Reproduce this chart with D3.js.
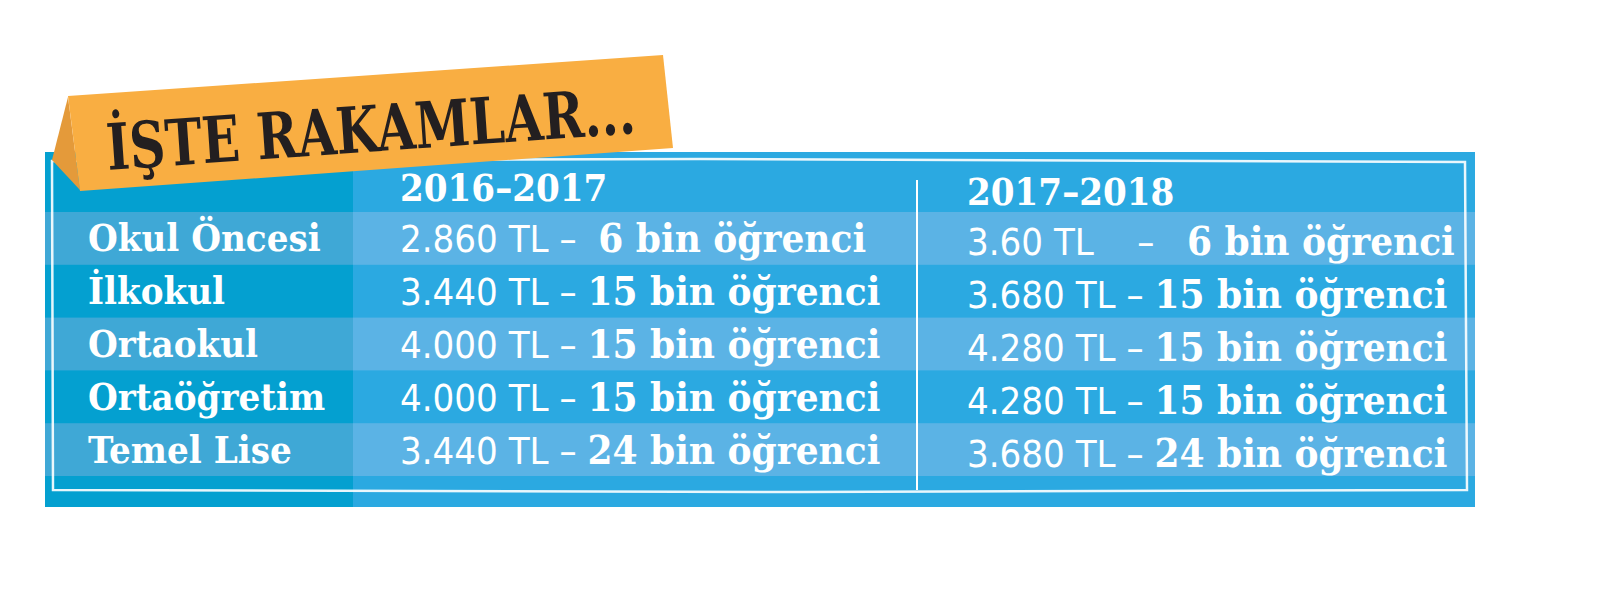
<!DOCTYPE html>
<html><head><meta charset="utf-8">
<script src="https://cdn.jsdelivr.net/npm/d3@7"></script>
<style>body{margin:0;background:#fff}</style></head>
<body><svg id="c" width="1600" height="590"></svg>
<script>
const title = "İŞTE RAKAMLAR...";
const periods = ["2016–2017", "2017–2018"];
const levels = ["Okul Öncesi", "İlkokul", "Ortaokul", "Ortaöğretim", "Temel Lise"];
const fees2016 = ["2.860 TL –  ", "3.440 TL – ", "4.000 TL – ", "4.000 TL – ", "3.440 TL – "];
const students2016 = ["6 bin öğrenci", "15 bin öğrenci", "15 bin öğrenci", "15 bin öğrenci", "24 bin öğrenci"];
const fees2017 = ["3.60 TL    –   ", "3.680 TL – ", "4.280 TL – ", "4.280 TL – ", "3.680 TL – "];
const students2017 = ["6 bin öğrenci", "15 bin öğrenci", "15 bin öğrenci", "15 bin öğrenci", "24 bin öğrenci"];

const svg = d3.select("#c");
const slab = "'DejaVu Serif Condensed','DejaVu Serif',serif";

// panel
svg.append("rect").attr("x", 45).attr("y", 152).attr("width", 1430).attr("height", 355).attr("fill", "#2ba9e1");
svg.append("rect").attr("x", 45).attr("y", 152).attr("width", 308).attr("height", 355).attr("fill", "#04a0d0");

const y = d3.scaleBand().domain(levels).range([212, 476]);
const rows = svg.selectAll("g.row").data(levels).enter().append("g");
rows.filter((d, i) => i % 2 === 0).each(function(d) {
    const g = d3.select(this);
    g.append("rect").attr("x", 45).attr("y", y(d)).attr("width", 308).attr("height", y.bandwidth()).attr("fill", "#3fa8d6");
    g.append("rect").attr("x", 353).attr("y", y(d)).attr("width", 1122).attr("height", y.bandwidth()).attr("fill", "#5bb3e5");
});

// hand-drawn frame
svg.append("path").attr("d", "M52,161 L700,159 L1465,162 L1467,490 L800,492 L53,490 Z")
    .attr("fill", "none").attr("stroke", "#fff").attr("stroke-width", 2.5).attr("opacity", 0.9);
svg.append("line").attr("x1", 917).attr("x2", 917).attr("y1", 180).attr("y2", 490)
    .attr("stroke", "#fff").attr("stroke-width", 2);

// headers
const colX = [400, 967];
svg.selectAll("text.hdr").data(periods).enter().append("text")
    .attr("x", (d, i) => colX[i]).attr("y", (d, i) => i ? 205 : 201)
    .attr("fill", "#fff").attr("font-family", slab).attr("font-weight", "bold")
    .attr("font-size", 38).text(d => d);

// labels
svg.selectAll("text.lbl").data(levels).enter().append("text")
    .attr("x", 88).attr("y", d => y(d) + y.bandwidth() / 2 + 13)
    .attr("fill", "#fff").attr("font-family", slab).attr("font-weight", "bold")
    .attr("font-size", 38).text(d => d);

// values
[[fees2016, students2016], [fees2017, students2017]].forEach(([fees, studs], c) => {
    levels.forEach((d, i) => {
        const t = svg.append("text").attr("x", colX[c]).attr("y", y(d) + y.bandwidth() / 2 + 14 + c * 3)
            .attr("fill", "#fff").attr("font-family", slab).attr("font-size", 38)
            .attr("xml:space", "preserve");
        t.append("tspan").attr("font-weight", 300).attr("font-family", "'DejaVu Sans Condensed',sans-serif").text(fees[i]);
        t.append("tspan").attr("font-weight", "bold").attr("font-size", 40).text(studs[i]);
    });
});

// orange banner
svg.append("path").attr("d", "M68,97 L52,160 L80,190 Z").attr("fill", "#e49a3a");
svg.append("path").attr("d", "M68,96 L663,55 L673,148 L80,191 Z").attr("fill", "#f9ae42");
svg.append("text").attr("transform", "translate(108,170) rotate(-4)")
    .attr("font-family", slab).attr("font-weight", "bold").attr("font-size", 64)
    .attr("fill", "#231f20").attr("textLength", 530).attr("lengthAdjust", "spacingAndGlyphs")
    .text(title);
</script></body></html>
